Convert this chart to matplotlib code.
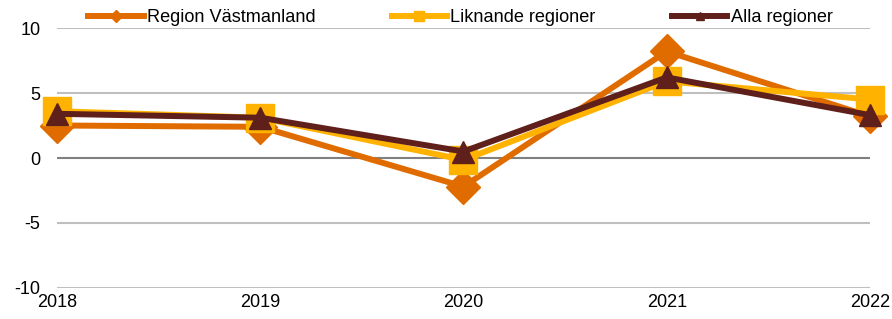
import matplotlib
matplotlib.use("Agg")
from matplotlib import pyplot as plt

plt.rcParams['font.family'] = ['Liberation Sans', 'DejaVu Sans']
plt.rcParams['axes.unicode_minus'] = False

years = [2018, 2019, 2020, 2021, 2022]
vastmanland = [2.5, 2.4, -2.2, 8.2, 3.2]
liknande = [3.6, 3.1, -0.15, 5.9, 4.5]
alla = [3.4, 3.1, 0.5, 6.2, 3.3]
yticks = [-10, -5, 0, 5, 10]

fig = plt.figure(figsize=(8.92, 3.19), dpi=100)
ax = fig.add_axes([0.0639, 0.0972, 0.9114, 0.8150])

# gridlines
for y in yticks:
    ax.axhline(y, color='#808080' if y == 0 else '#BFBFBF', lw=1.5, zorder=0)

ax.plot(years, vastmanland, color='#E06C00', lw=4.3, marker='D', ms=17,
        label='Region Västmanland', clip_on=False, zorder=3)
ax.plot(years, liknande, color='#FFB300', lw=4.3, marker='s', ms=20,
        label='Liknande regioner', clip_on=False, zorder=4)
ax.plot(years, alla, color='#5F1F1A', lw=4.3, marker='^', ms=16,
        label='Alla regioner', clip_on=False, zorder=5)

ax.set_xlim(2018, 2022)
ax.set_ylim(-10, 10)
ax.set_yticks(yticks)
ax.set_xticks(years)
ax.tick_params(length=0, labelsize=13, colors='#000000')
ax.tick_params(axis='y', pad=12)
ax.tick_params(axis='x', pad=4)
for s in ax.spines.values():
    s.set_visible(False)

fig.legend(loc='center left', bbox_to_anchor=(0.0987, 0.944), ncol=3,
           frameon=False, fontsize=13.1, markerscale=0.35,
           handlelength=3.05, handletextpad=0.17, columnspacing=4.2,
           borderaxespad=0, borderpad=0)

fig.savefig('out.png', dpi=100)
